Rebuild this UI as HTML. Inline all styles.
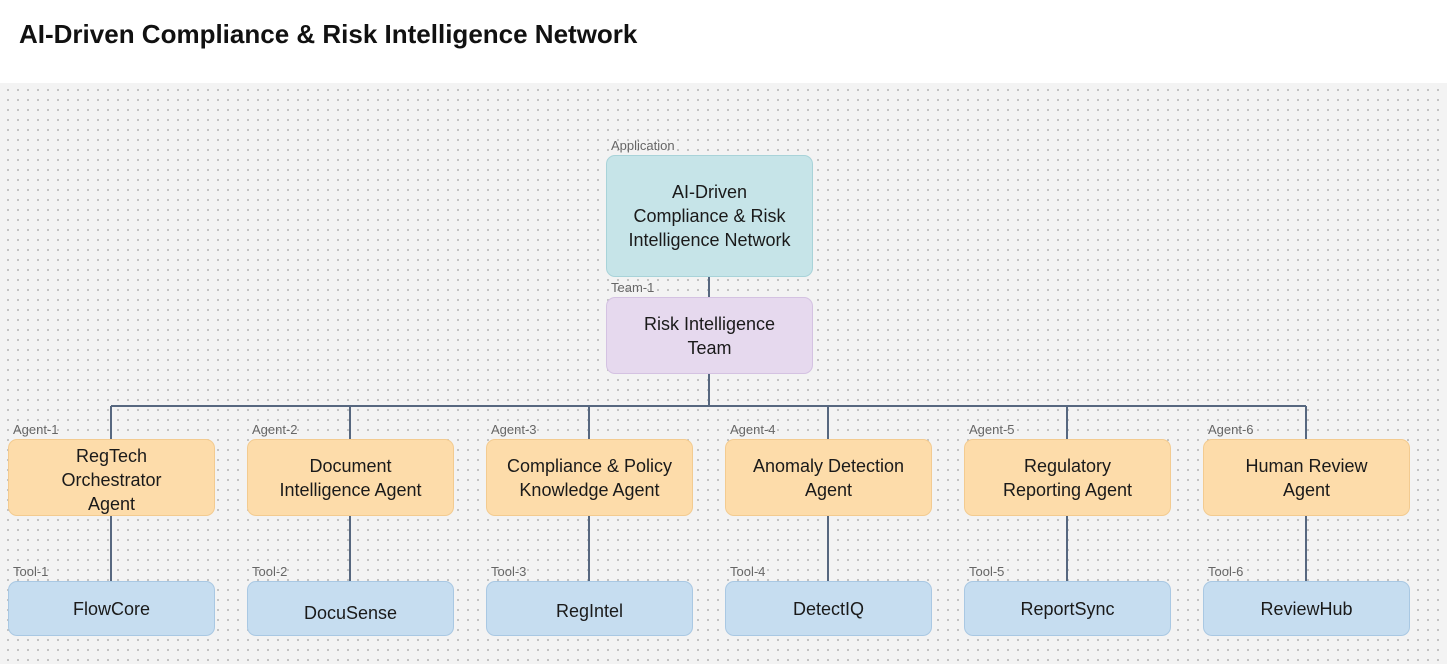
<!DOCTYPE html>
<html><head><meta charset="utf-8"><style>
body{margin:0;width:1447px;height:664px;overflow:hidden;font-family:"Liberation Sans",sans-serif;background:#fff;position:relative}
h1{position:absolute;left:19px;top:19px;margin:0;font-size:26px;font-weight:bold;color:#111}
.canvas{position:absolute;left:0;top:83px;width:1447px;height:581px;background-color:#f3f3f3;background-image:radial-gradient(circle,#b8b8b8 0.8px,transparent 1.2px);background-size:10px 10px;background-position:3px 2px}
.b{position:absolute;box-sizing:border-box;border-radius:9px;display:flex;align-items:center;justify-content:center;text-align:center;font-size:18px;line-height:24px;color:#1a1a1a}
.lbl{position:absolute;font-size:13px;color:#666}
.app{background:#c6e4e8;border:1px solid #a8d3d9}
.team{background:#e6d9ee;border:1px solid #d4c2e2}
.ag{background:#fddcaa;border:1px solid #f3cb90}
.tl{background:#c6ddf0;border:1px solid #a9c8e3}
</style></head><body>
<h1>AI-Driven Compliance &amp; Risk Intelligence Network</h1>
<div class="canvas"></div>
<svg width="1447" height="664" style="position:absolute;left:0;top:0">
<g stroke="#56677f" stroke-width="2" fill="none">
<line x1="709" y1="277" x2="709" y2="297"/>
<line x1="709" y1="374" x2="709" y2="406"/>
<line x1="111" y1="406" x2="1306" y2="406"/>
<line x1="111" y1="406" x2="111" y2="439"/><line x1="350" y1="406" x2="350" y2="439"/><line x1="589" y1="406" x2="589" y2="439"/><line x1="828" y1="406" x2="828" y2="439"/><line x1="1067" y1="406" x2="1067" y2="439"/><line x1="1306" y1="406" x2="1306" y2="439"/>
<line x1="111" y1="516" x2="111" y2="581"/><line x1="350" y1="516" x2="350" y2="581"/><line x1="589" y1="516" x2="589" y2="581"/><line x1="828" y1="516" x2="828" y2="581"/><line x1="1067" y1="516" x2="1067" y2="581"/><line x1="1306" y1="516" x2="1306" y2="581"/>
</g></svg>
<div class="lbl" style="left:611px;top:138px">Application</div>
<div class="b app" style="left:606px;top:155px;width:207px;height:122px">AI-Driven<br>Compliance &amp; Risk<br>Intelligence Network</div>
<div class="lbl" style="left:611px;top:280px">Team-1</div>
<div class="b team" style="left:606px;top:297px;width:207px;height:77px">Risk Intelligence<br>Team</div>

<div class="lbl" style="left:13px;top:422px">Agent-1</div><div class="b ag" style="left:8px;top:439px;width:207px;height:77px;padding-top:4px">RegTech<br>Orchestrator<br>Agent</div>
<div class="lbl" style="left:252px;top:422px">Agent-2</div><div class="b ag" style="left:247px;top:439px;width:207px;height:77px">Document<br>Intelligence Agent</div>
<div class="lbl" style="left:491px;top:422px">Agent-3</div><div class="b ag" style="left:486px;top:439px;width:207px;height:77px">Compliance &amp; Policy<br>Knowledge Agent</div>
<div class="lbl" style="left:730px;top:422px">Agent-4</div><div class="b ag" style="left:725px;top:439px;width:207px;height:77px">Anomaly Detection<br>Agent</div>
<div class="lbl" style="left:969px;top:422px">Agent-5</div><div class="b ag" style="left:964px;top:439px;width:207px;height:77px">Regulatory<br>Reporting Agent</div>
<div class="lbl" style="left:1208px;top:422px">Agent-6</div><div class="b ag" style="left:1203px;top:439px;width:207px;height:77px">Human Review<br>Agent</div>

<div class="lbl" style="left:13px;top:564px">Tool-1</div><div class="b tl" style="left:8px;top:581px;width:207px;height:55px">FlowCore</div>
<div class="lbl" style="left:252px;top:564px">Tool-2</div><div class="b tl" style="left:247px;top:581px;width:207px;height:55px;padding-top:8px">DocuSense</div>
<div class="lbl" style="left:491px;top:564px">Tool-3</div><div class="b tl" style="left:486px;top:581px;width:207px;height:55px;padding-top:4px">RegIntel</div>
<div class="lbl" style="left:730px;top:564px">Tool-4</div><div class="b tl" style="left:725px;top:581px;width:207px;height:55px">DetectIQ</div>
<div class="lbl" style="left:969px;top:564px">Tool-5</div><div class="b tl" style="left:964px;top:581px;width:207px;height:55px">ReportSync</div>
<div class="lbl" style="left:1208px;top:564px">Tool-6</div><div class="b tl" style="left:1203px;top:581px;width:207px;height:55px">ReviewHub</div>
</body></html>
